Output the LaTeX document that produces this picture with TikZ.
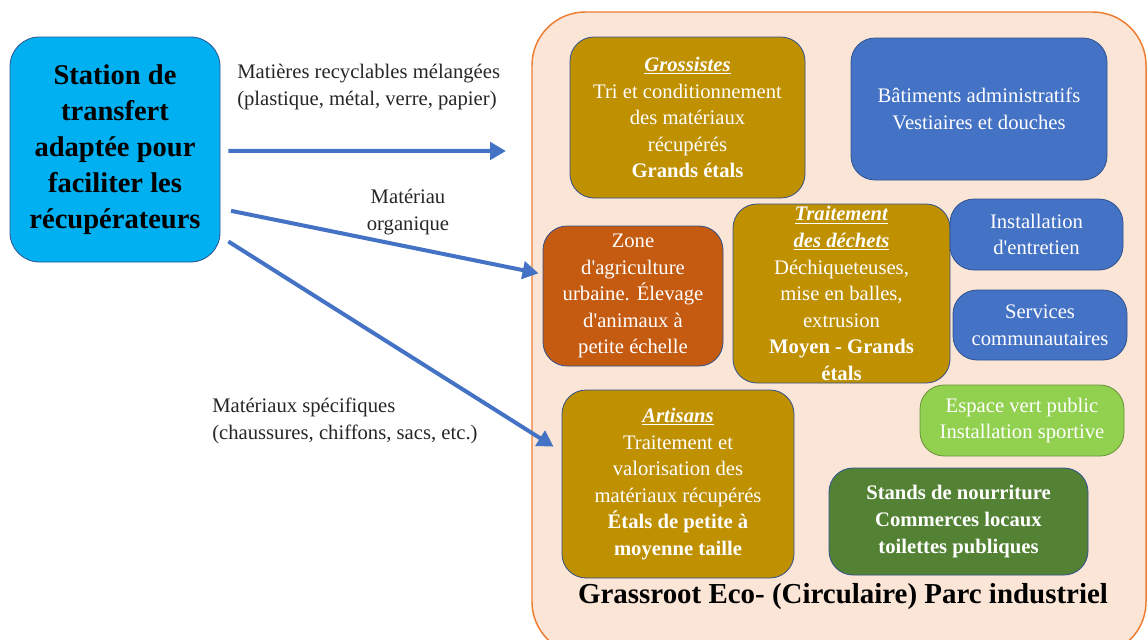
\documentclass[tikz,border=0pt]{standalone}
\usepackage{fontspec}
\setmainfont{Liberation Serif}
\usetikzlibrary{arrows.meta}

\definecolor{stationcyan}{HTML}{00B0F0}
\definecolor{gold}{HTML}{BF9000}
\definecolor{steel}{HTML}{4472C4}
\definecolor{rust}{HTML}{C55A11}
\definecolor{lime}{HTML}{92D050}
\definecolor{moss}{HTML}{548235}
\definecolor{parkfill}{HTML}{FBE5D6}
\definecolor{parkline}{HTML}{ED7D31}
\definecolor{edge}{HTML}{2F528F}

\newcommand{\uhead}[1]{\underline{\textbf{\textit{#1}}}}

\begin{document}
\begin{tikzpicture}[
  x=0.75pt, y=-0.75pt,
  font=\fontsize{15.5}{19.9}\selectfont,
  box/.style={draw=edge, line width=0.6pt, rounded corners=18pt, align=center,
              inner sep=0pt, text=white},
  golden/.style={box, fill=gold},
  admin/.style={box, fill=steel},
  farm/.style={box, fill=rust},
  green/.style={box, fill=lime, draw=lime!70!black},
  food/.style={box, fill=moss, font=\fontsize{15.5}{19.9}\selectfont\bfseries},
  station/.style={draw=edge, line width=0.6pt, rounded corners=22pt, fill=stationcyan,
                  align=center, inner sep=0pt,
                  font=\fontsize{21.4}{27}\selectfont\bfseries},
  park/.style={draw=parkline, line width=1.1pt, fill=parkfill, rounded corners=40pt,
               inner sep=0pt},
  lbl/.style={align=left, text=black!85, inner sep=0pt},
  flow/.style={draw=steel, line width=3pt, -{Triangle[length=12pt,width=13pt]}},
]
  \useasboundingbox (0,0) rectangle (1148,639);

  % ----- Park outline -----
  \node[park, minimum width=460.5pt, minimum height=482.25pt] (park) at (839,333.5) {};

  % ----- Transfer station -----
  \node[station, minimum width=157.5pt, minimum height=168.75pt] (stat) at (115,149.5)
    {Station de\\transfert\\adaptée pour\\faciliter les\\récupérateurs};

  % ----- Park zones -----
  \node[golden, minimum width=176.25pt, minimum height=120.75pt] (gross) at (687.5,117.5)
    {\uhead{Grossistes}\\Tri et conditionnement\\des matériaux\\récupérés\\\textbf{Grands étals}};
  \node[admin, minimum width=192pt, minimum height=106.5pt] (admin) at (979,109)
    {Bâtiments administratifs\\Vestiaires et douches};

  \node[farm, minimum width=135pt, minimum height=105pt] (zone) at (633,296)
    {Zone\\d\textquotesingle agriculture\\urbaine. Élevage\\d\textquotesingle animaux à\\petite échelle};
  \node[golden, minimum width=162.75pt, minimum height=134.25pt] (treat) at (841.5,293.5)
    {\uhead{Traitement}\\\uhead{des déchets}\\Déchiqueteuses,\\mise en balles,\\extrusion\\\textbf{Moyen - Grands}\\\textbf{étals}};
  \node[admin, minimum width=129.75pt, minimum height=53.25pt] (maint) at (1036.5,234.5)
    {Installation\\d\textquotesingle entretien};
  \node[admin, minimum width=130.5pt, minimum height=52.5pt] (serv) at (1040,325)
    {Services\\communautaires};

  \node[green, minimum width=153pt, minimum height=53.25pt] (sport) at (1022,420.5)
    {Espace vert public\\Installation sportive};
  \node[golden, minimum width=174pt, minimum height=141pt] (artis) at (678,484)
    {\uhead{Artisans}\\Traitement et\\valorisation des\\matériaux récupérés\\\textbf{Étals de petite à}\\\textbf{moyenne taille}};
  \node[food, minimum width=194.25pt, minimum height=80.25pt] (stands) at (958.5,521.5)
    {Stands de nourriture\\Commerces locaux\\toilettes publiques};

  \node[font=\fontsize{21.7}{26}\selectfont\bfseries] (title) at (843,597)
    {Grassroot Eco- (Circulaire) Parc industriel};

  % ----- Flows -----
  \coordinate (drop) at (506,151);
  \draw[flow] ([xshift=6pt,yshift=-1pt]stat.east) -- (drop);
  \draw[flow] ([xshift=8pt,yshift=-46pt]stat.east) -- ([xshift=-3pt,yshift=17pt]zone.west);
  \draw[flow] ([xshift=6pt,yshift=-69pt]stat.east) -- ([xshift=-6pt,yshift=28pt]artis.west);

  \node[lbl, anchor=west] (lmix) at (237,87)
    {Matières recyclables mélangées\\(plastique, métal, verre, papier)};
  \node[lbl, align=center] (lorg) at (408,212) {Matériau\\organique};
  \node[lbl, anchor=west] (lspec) at (212,421)
    {Matériaux spécifiques\\(chaussures, chiffons, sacs, etc.)};
\end{tikzpicture}
\end{document}
